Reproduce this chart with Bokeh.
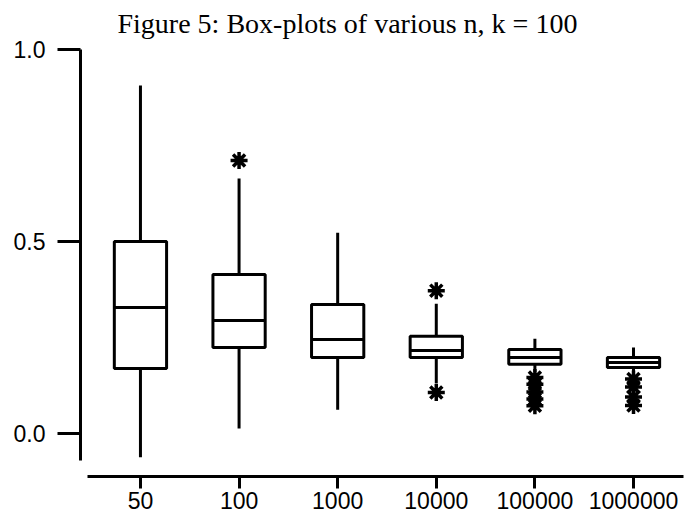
from bokeh.plotting import figure
from bokeh.models import Range1d, FixedTicker, NumeralTickFormatter, Title, ColumnDataSource
from bokeh.embed import file_html
from bokeh.resources import INLINE

# ---- data ----
categories = ["50", "100", "1000", "10000", "100000", "1000000"]
q1 = [0.169, 0.224, 0.198, 0.198, 0.180, 0.172]
median = [0.328, 0.294, 0.245, 0.216, 0.198, 0.185]
q3 = [0.500, 0.414, 0.336, 0.253, 0.219, 0.198]
whisker_low = [-0.062, 0.013, 0.062, 0.130, 0.160, 0.160]
whisker_high = [0.906, 0.664, 0.523, 0.338, 0.247, 0.224]
outliers = {
    "100": [0.711],
    "10000": [0.372, 0.107],
    "100000": [0.146, 0.128, 0.108, 0.090, 0.072],
    "1000000": [0.142, 0.121, 0.095, 0.073],
}
y_ticks = [0.0, 0.5, 1.0]
title_text = "Figure 5: Box-plots of various n, k = 100"

xpos = list(range(len(categories)))
box_w = 0.53

src = ColumnDataSource(dict(
    x=xpos, q1=q1, med=median, q3=q3, lo=whisker_low, hi=whisker_high,
    left=[x - box_w / 2 for x in xpos], right=[x + box_w / 2 for x in xpos],
))

ox, oy = [], []
for c, vals in outliers.items():
    for v in vals:
        ox.append(categories.index(c))
        oy.append(v)

p = figure(width=690, height=520, output_backend="svg", toolbar_location=None,
           x_range=Range1d(-0.608, 5.507), y_range=Range1d(-0.112, 1.0),
           min_border_left=80, min_border_right=7, min_border_top=49, min_border_bottom=44)
p.title = Title(text=title_text, align="left", offset=37, standoff=0,
                text_font="Liberation Serif", text_font_size="28px",
                text_font_style="normal", text_color="black")
# blank spacer between the title and the plot frame
p.add_layout(Title(text=" ", text_font_size="8px", standoff=0), "above")
p.outline_line_color = None
p.xgrid.visible = False
p.ygrid.visible = False

# whiskers
p.segment(x0="x", x1="x", y0="q3", y1="hi", source=src, line_color="black", line_width=3)
p.segment(x0="x", x1="x", y0="lo", y1="q1", source=src, line_color="black", line_width=3)
# boxes
p.vbar(x="x", width=box_w, bottom="q1", top="q3", source=src,
       fill_color="white", line_color="black", line_width=3)
# medians
p.segment(x0="left", x1="right", y0="med", y1="med", source=src, line_color="black", line_width=3)
# outliers
p.scatter(ox, oy, marker="asterisk", size=17, line_color="black", line_width=3.5)

# axes
xa = p.xaxis[0]
xa.ticker = FixedTicker(ticks=xpos)
xa.major_label_overrides = {i: c for i, c in enumerate(categories)}
xa.bounds = (-0.54, 5.507)
xa.axis_line_width = 3
xa.major_tick_line_width = 3
xa.major_tick_out = 12
xa.major_tick_in = 0
xa.minor_tick_line_color = None
xa.major_label_standoff = 3
xa.major_label_text_font = "Liberation Sans"
xa.major_label_text_font_size = "23px"
xa.major_label_text_color = "black"

ya = p.yaxis[0]
ya.ticker = FixedTicker(ticks=y_ticks)
ya.formatter = NumeralTickFormatter(format="0.0")
ya.bounds = (-0.07, 1.0)
ya.axis_line_width = 3
ya.major_tick_line_width = 3
ya.major_tick_out = 23
ya.major_tick_in = 0
ya.minor_tick_line_color = None
ya.major_label_standoff = 12
ya.major_label_text_font = "Liberation Sans"
ya.major_label_text_font_size = "23px"
ya.major_label_text_color = "black"

open("out.html", "w").write(file_html(p, INLINE))
